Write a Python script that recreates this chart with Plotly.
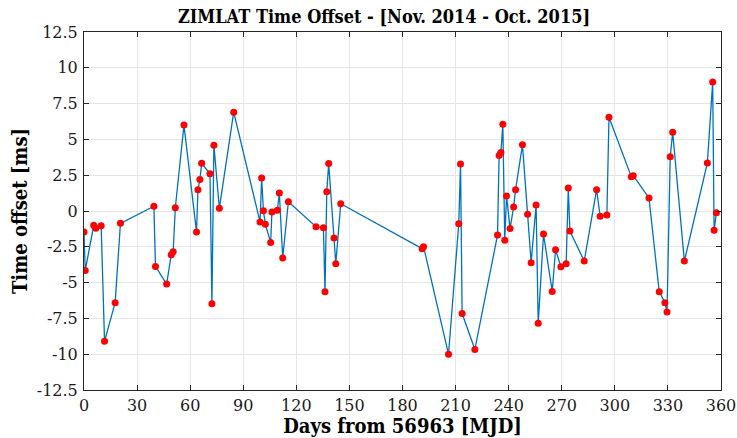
import plotly.graph_objects as go

# Days elapsed since MJD 56963 and measured time offset (ms)
days = [0.0, 0.7, 5.5, 6.7, 9.7, 11.6, 17.6, 20.6, 39.5, 40.4, 46.7, 49.3, 50.4, 51.6,
        56.5, 63.6, 64.4, 65.5, 66.5, 71.2, 72.3, 73.4, 76.5, 84.6, 99.5, 100.4, 101.4,
        102.5, 105.5, 106.2, 109.3, 110.4, 112.3, 115.5, 131.1, 135.3, 136.2, 137.2,
        138.3, 141.3, 142.3, 145.1, 191.1, 191.9, 206.0, 211.8, 212.8, 213.7, 220.9,
        233.7, 234.6, 235.6, 236.7, 237.8, 238.8, 240.8, 242.8, 243.9, 247.8, 250.7,
        252.7, 255.5, 256.7, 259.7, 264.6, 266.5, 269.5, 272.5, 273.7, 274.6, 282.7,
        289.7, 291.7, 295.5, 296.7, 309.3, 310.4, 319.3, 325.1, 328.3, 329.5, 331.3,
        332.7, 339.3, 352.3, 355.3, 356.1, 357.4]
offset_ms = [-1.47, -4.15, -1.0, -1.2, -1.03, -9.1, -6.4, -0.86, 0.33, -3.87, -5.1, -3.05,
             -2.84, 0.23, 6.0, -1.47, 1.49, 2.2, 3.33, 2.6, -6.48, 4.6, 0.19, 6.9, -0.77,
             2.31, 0.02, -0.93, -2.2, -0.07, 0.05, 1.26, -3.29, 0.65, -1.1, -1.17, -5.64,
             1.35, 3.31, -1.89, -3.68, 0.51, -2.63, -2.49, -10.0, -0.89, 3.29, -7.16, -9.67,
             -1.68, 3.87, 4.08, 6.06, -2.05, 1.05, -1.23, 0.28, 1.49, 4.62, -0.23, -3.61,
             0.42, -7.83, -1.61, -5.62, -2.7, -3.89, -3.68, 1.6, -1.4, -3.5, 1.49, -0.37,
             -0.28, 6.55, 2.4, 2.47, 0.91, -5.64, -6.41, -7.06, 3.78, 5.5, -3.5, 3.36, 9.0,
             -1.35, -0.12]

x_ticks = list(range(0, 361, 30))
y_ticks = [-12.5, -10, -7.5, -5, -2.5, 0, 2.5, 5, 7.5, 10, 12.5]
y_tick_text = ["-12.5", "-10", "-7.5", "-5", "-2.5", "0", "2.5", "5", "7.5", "10", "12.5"]

tick_font = "DejaVu Serif"
label_font = "DejaVu Serif Condensed, DejaVu Serif"
axis_color = "#262626"
grid_color = "#e6e6e6"

fig = go.Figure()
fig.add_trace(go.Scatter(
    x=days, y=offset_ms, mode="lines+markers",
    line=dict(color="#0072BD", width=1.3),
    marker=dict(color="#ff0000", size=7, line=dict(width=0)),
    showlegend=False,
))

axis_common = dict(
    showline=True, linecolor=axis_color, linewidth=1, mirror="ticks",
    ticks="inside", ticklen=5, tickcolor=axis_color,
    showgrid=True, gridcolor=grid_color, gridwidth=1, zeroline=False,
    automargin=False,
    tickfont=dict(family=tick_font, size=16, color="#1a1a1a"),
)

fig.update_layout(
    width=737, height=438,
    margin=dict(l=84, r=16, t=32, b=48),
    paper_bgcolor="white", plot_bgcolor="white",
    title=dict(text="<b>ZIMLAT Time Offset - [Nov. 2014 - Oct. 2015]</b>",
               x=384 / 737, xanchor="center", y=1 - 17 / 438, yanchor="middle",
               yref="container",
               font=dict(family=label_font, size=18, color="black")),
    xaxis=dict(range=[0, 360], tickvals=x_ticks, ticklabelstandoff=1,
               title=dict(text="<b>Days from 56963 [MJD]</b>", standoff=0,
                          font=dict(family=label_font, size=20, color="black")),
               **axis_common),
    yaxis=dict(range=[-12.5, 12.5], tickvals=y_ticks, ticktext=y_tick_text,
               ticklabelstandoff=2,
               title=dict(text="<b>Time offset [ms]</b>", standoff=3,
                          font=dict(family=label_font, size=20, color="black")),
               **axis_common),
)

fig.write_html("out.html")
